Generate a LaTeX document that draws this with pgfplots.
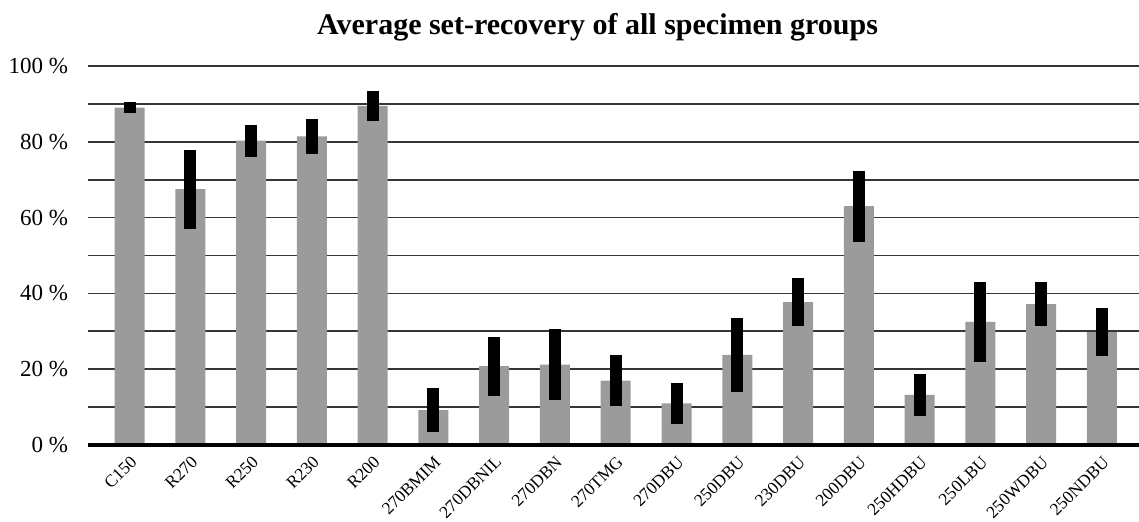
\documentclass[border=0pt]{standalone}
\usepackage{pgfplots}
\pgfplotsset{compat=1.18}
\usepackage{pgfplotstable}
\usepackage{fontspec}
\setmainfont{Liberation Serif}
\definecolor{bargray}{HTML}{9B9B9B}
\definecolor{gridgray}{HTML}{363636}
\pgfplotstableread{
x y e
0 89.0 1.5
1 67.5 10.4
2 80.3 4.2
3 81.4 4.6
4 89.5 3.9
5 9.2 5.9
6 20.8 7.8
7 21.2 9.3
8 17.0 6.8
9 11.0 5.4
10 23.8 9.8
11 37.7 6.4
12 63.0 9.4
13 13.2 5.5
14 32.5 10.6
15 37.2 5.9
16 29.8 6.4
}\datatable
\begin{document}
\begin{tikzpicture}
\useasboundingbox (-44pt,-38.5pt) rectangle (525.5pt,222.5pt);
\begin{axis}[
  scale only axis, width=525.5pt, height=189.5pt,
  at={(0,0)}, anchor=south west,
  ymin=0, ymax=100, xmin=-0.683, xmax=16.61,
  ybar, bar width=15pt,
  ytick={0,20,...,100},
  yticklabels={0 \%,20 \%,40 \%,60 \%,80 \%,100 \%},
  minor ytick={10,30,50,70,90},
  ymajorgrids, yminorgrids,
  major grid style={gridgray, line width=0.85pt},
  minor grid style={gridgray, line width=0.85pt},
  xtick=data,
  xticklabels={C150,R270,R250,R230,R200,270BMIM,270DBNIL,270DBN,270TMG,270DBU,250DBU,230DBU,200DBU,250HDBU,250LBU,250WDBU,250NDBU},
  x tick label style={rotate=45, anchor=north east, font=\fontsize{8.7}{10}\selectfont},
  y tick label style={font=\fontsize{11.5}{13}\selectfont, xshift=-6.5pt},
  major tick length=0pt, minor tick length=0pt,
  axis line style={-},
  axis x line*=bottom, axis y line*=left,
  y axis line style={draw=none},
  x axis line style={line width=2pt, black},
  title={Average set-recovery of all specimen groups},
  title style={font=\fontsize{15}{18}\selectfont\bfseries, at={(axis description cs:0.4848,1)}, anchor=base, yshift=9.5pt},
]
\addplot[fill=bargray, draw=none,
  error bars/.cd, y dir=both, y explicit, error mark=none,
  error bar style={line width=6pt, black}]
  table[x=x, y=y, y error=e] {\datatable};
\draw[line width=2pt, black] (rel axis cs:0,0) -- (rel axis cs:1,0);
\end{axis}
\end{tikzpicture}
\end{document}
